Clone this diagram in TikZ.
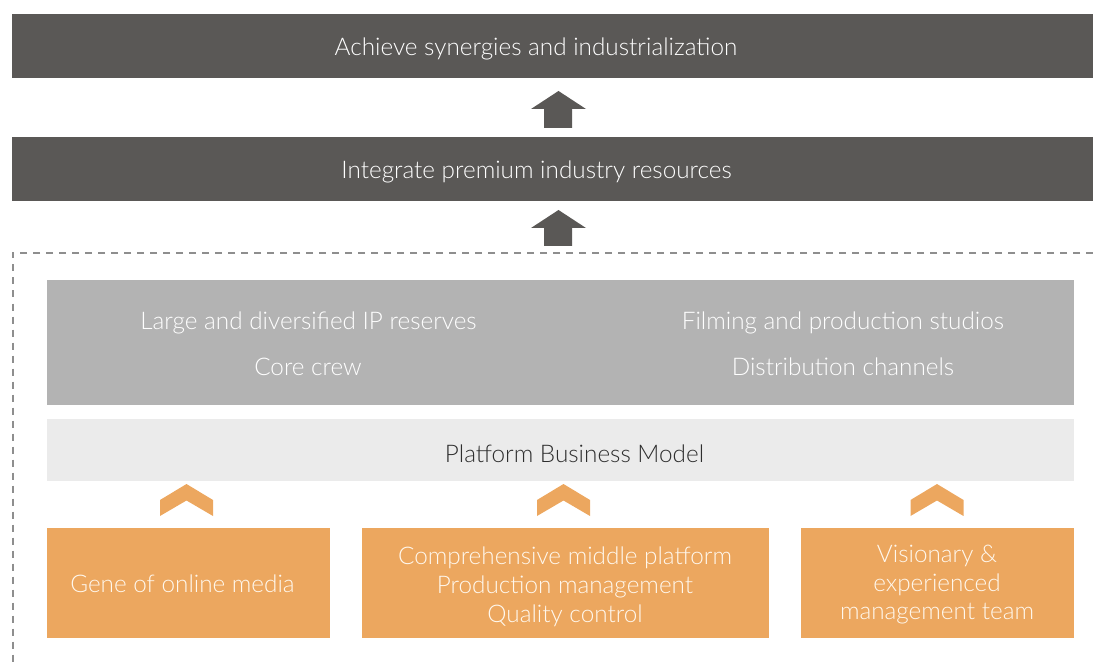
\documentclass[tikz,border=0pt]{standalone}
\usepackage{fontspec}
\setmainfont{Lato}[UprightFont={* Light}]
\begin{document}
\begin{tikzpicture}[x=1pt,y=-1pt,
  txt/.style={inner sep=0pt,font=\fontsize{24.3}{29}\selectfont},
  darkbar/.style={fill=barDark,draw=none,inner sep=0pt},
  bartext/.style={txt,text=white},
  resbox/.style={fill=resGray,draw=none,inner sep=0pt},
  restext/.style={txt,text=white},
  platbox/.style={fill=platGray,draw=none,inner sep=0pt},
  plattext/.style={txt,text=textDark},
  pillar/.style={fill=pillarOrange,draw=none,inner sep=0pt},
  pillartext/.style={txt,text=textCream,align=center},
  fatarrow/.style={fill=barDark,draw=none},
  chevron/.style={fill=pillarOrange,draw=none},
  frame/.style={draw=frameGray,line width=2pt,dash pattern=on 7pt off 6pt}]
\definecolor{barDark}{HTML}{5A5856}
\definecolor{resGray}{HTML}{B3B3B3}
\definecolor{platGray}{HTML}{EBEBEB}
\definecolor{pillarOrange}{HTML}{ECA75F}
\definecolor{frameGray}{HTML}{8E8E8E}
\definecolor{textDark}{HTML}{2E2E2E}
\definecolor{textCream}{HTML}{FFF8EE}
\useasboundingbox (0,0) rectangle (1093,663);

% goal bars
\node[darkbar,minimum width=1081pt,minimum height=64pt] (goal) at (552.5,46) {};
\node[bartext] (goaltext) at (536,48.5) {Achieve synergies and industrialization};
\node[darkbar,minimum width=1081pt,minimum height=64pt] (integrate) at (552.5,169) {};
\node[bartext] (integratetext) at (536.5,171.5) {Integrate premium industry resources};

% upward block arrows
\fill[fatarrow] (544,128) -- (544,109) -- (531,109) -- (558.5,91) -- (586,109) -- (572,109) -- (572,128) -- cycle;
\fill[fatarrow] (544,246) -- (544,228) -- (531,228) -- (558.5,210) -- (586,228) -- (572,228) -- (572,246) -- cycle;

% dashed frame around the foundation
\draw[frame] (1093,253) -- (12.5,253) -- (12.5,663);

% resources
\node[resbox,minimum width=1027pt,minimum height=125pt] (resources) at (560.5,342.5) {};
\node[restext] (ip) at (308.5,322.5) {Large and diversified IP reserves};
\node[restext] (crew) at (308,366.5) {Core crew};
\node[restext] (studios) at (843,322.5) {Filming and production studios};
\node[restext] (channels) at (843,366.5) {Distribution channels};

% platform
\node[platbox,minimum width=1027pt,minimum height=62pt] (platform) at (560.5,450) {};
\node[plattext] (platformtext) at (574.5,453.5) {Platform Business Model};

% pillars
\node[pillar,minimum width=283pt,minimum height=110pt] (gene) at (188.5,583) {};
\node[pillartext] (genetext) at (182.5,584) {Gene of online media};
\node[pillar,minimum width=407pt,minimum height=110pt] (middle) at (565.5,583) {};
\node[pillartext] (middletext) at (565,587) {Comprehensive middle platform\\Production management\\Quality control};
\node[pillar,minimum width=273pt,minimum height=110pt] (team) at (937.5,583) {};
\node[pillartext,font=\fontsize{24.3}{28.5}\selectfont] (teamtext) at (937,585) {Visionary \&\\experienced\\management team};

% chevrons from pillars up to the platform
\foreach \c in {186.5,563.5,937} {
  \fill[chevron] (\c-26.5,500) -- (\c,484) -- (\c+26.5,500) -- (\c+26.5,516) -- (\c,500.5) -- (\c-26.5,516) -- cycle;
}
\end{tikzpicture}
\end{document}
